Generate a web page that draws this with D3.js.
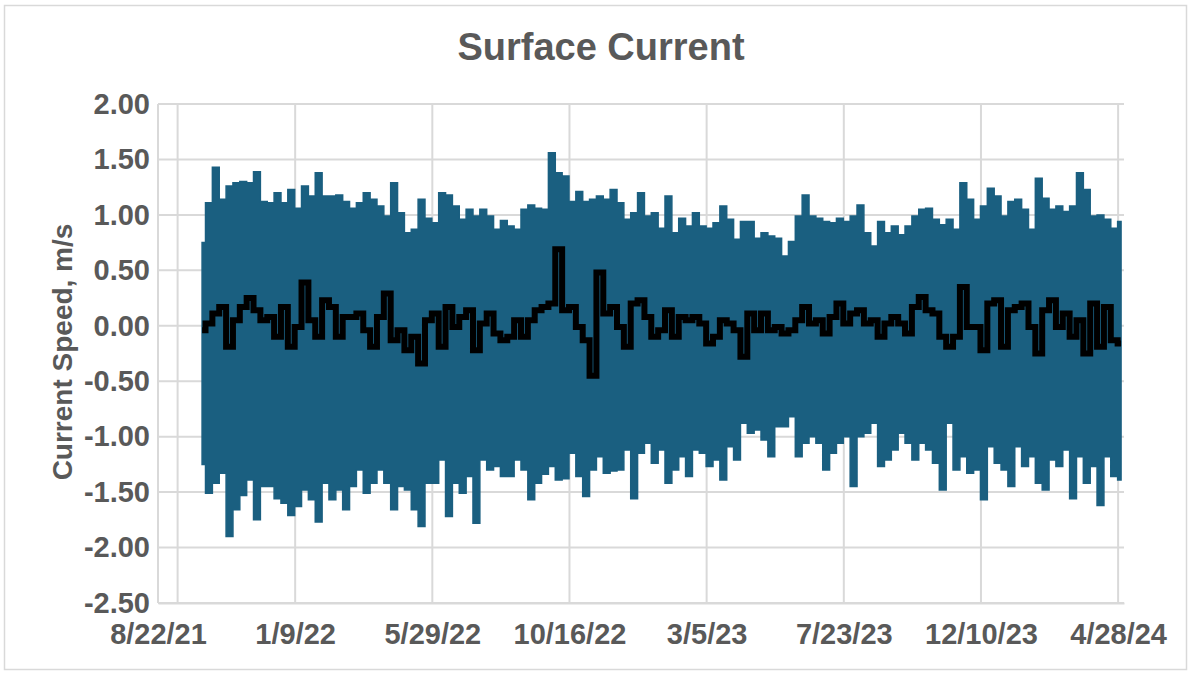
<!DOCTYPE html>
<html>
  <head>
    <meta charset="utf-8">
    <script src="https://d3js.org/d3.v7.min.js"></script>
    <style>
      body { margin: 0; background: #fff; }
      text { font-family: "Liberation Sans", Arial, sans-serif; font-weight: bold; fill: #595959; }
    </style>
  </head>
<body>
  <script type="text/javascript">
    "use strict";

    // first sample and spacing (days) of the read-off series
    var startDate = "10/6/21";
    var stepDays = 7;

    // raw current: upper and lower edges of the tidal band
    var rawHigh = [
      0.75,1.11,1.43,1.14,1.26,1.29,1.30,1.29,1.39,1.12,1.11,1.20,1.11,1.23,1.06,1.26,1.17,1.38,1.17,1.17,1.18,1.12,1.06,
      1.11,1.20,1.14,1.08,0.99,1.29,1.02,0.84,0.87,1.14,0.97,0.93,1.20,1.18,1.08,0.96,1.05,0.99,1.05,0.99,0.87,0.95,
      0.90,0.87,1.05,1.09,1.06,1.05,1.56,1.38,1.35,1.12,1.21,1.12,1.14,1.17,1.14,1.23,1.11,0.96,1.02,1.20,0.99,1.02,0.88,
      1.17,0.84,0.97,0.90,1.02,0.90,0.88,0.93,1.08,0.96,0.78,0.94,0.94,0.79,0.84,0.81,0.79,0.63,0.76,0.99,1.18,0.99,
      0.97,0.94,0.93,0.97,0.94,0.99,1.09,0.84,0.72,0.94,0.84,0.90,0.82,0.90,0.99,1.05,1.06,0.96,0.91,0.96,0.87,1.29,1.14,
      0.96,1.08,1.24,1.17,0.99,1.12,1.14,1.05,0.87,1.33,1.15,1.05,1.08,1.03,1.08,1.38,1.23,0.99,1.00,0.96,0.88,0.94
    ];
    var rawLow = [
      -1.25,-1.51,-1.42,-1.33,-1.90,-1.66,-1.53,-1.39,-1.75,-1.45,-1.45,-1.56,-1.60,-1.71,-1.63,-1.48,-1.57,-1.77,-1.42,-1.57,-1.48,-1.66,-1.45,
      -1.30,-1.51,-1.42,-1.30,-1.42,-1.66,-1.45,-1.48,-1.66,-1.81,-1.42,-1.42,-1.21,-1.72,-1.42,-1.51,-1.36,-1.78,-1.21,-1.30,-1.27,-1.36,
      -1.36,-1.21,-1.30,-1.57,-1.42,-1.34,-1.27,-1.39,-1.38,-1.15,-1.36,-1.54,-1.30,-1.18,-1.33,-1.31,-1.30,-1.12,-1.56,-1.15,-1.06,-1.24,-1.12,
      -1.42,-1.30,-1.18,-1.36,-1.12,-1.15,-1.27,-1.21,-1.39,-1.09,-1.21,-0.88,-0.97,-0.94,-1.03,-1.18,-0.91,-0.91,-0.82,-1.18,-1.06,-1.00,
      -1.06,-1.30,-1.15,-1.06,-1.00,-1.45,-1.00,-0.97,-0.88,-1.27,-1.21,-1.12,-0.97,-1.06,-1.21,-1.06,-1.12,-1.24,-1.48,-0.88,-1.30,-1.18,-1.33,
      -1.30,-1.57,-1.09,-1.24,-1.30,-1.45,-1.09,-1.27,-1.18,-1.42,-1.48,-1.21,-1.27,-1.12,-1.56,-1.18,-1.42,-1.27,-1.62,-1.18,-1.36,-1.39
    ];
    // low-pass (subtidal) current
    var filtered = [
      -0.04,0.02,0.11,0.17,-0.19,0.05,0.17,0.25,0.14,0.05,0.08,-0.10,0.17,-0.19,-0.01,0.39,0.05,-0.10,0.23,0.17,-0.10,0.08,0.08,
      0.11,-0.04,-0.19,0.08,0.29,-0.13,-0.04,-0.22,-0.10,-0.34,0.05,0.11,-0.19,0.17,-0.01,0.08,0.14,-0.22,0.02,0.11,-0.07,-0.13,
      -0.10,0.05,-0.10,0.05,0.14,0.17,0.20,0.69,0.14,0.17,-0.01,-0.13,-0.45,0.48,0.11,0.17,-0.01,-0.19,0.20,0.23,0.08,-0.10,-0.04,
      0.14,-0.10,0.08,0.05,0.08,0.02,-0.16,-0.10,0.05,0.02,-0.04,-0.28,0.11,-0.04,0.11,-0.04,-0.01,-0.07,-0.04,0.05,0.17,0.02,
      0.05,-0.07,0.08,0.20,0.02,0.11,0.14,0.02,0.05,-0.10,0.02,0.08,0.02,-0.07,0.17,0.26,0.14,0.11,-0.10,-0.19,-0.10,0.35,-0.01,
      -0.01,-0.22,0.20,0.23,-0.19,0.14,0.17,0.20,-0.01,-0.25,0.14,0.23,-0.01,0.11,-0.10,0.05,-0.25,0.20,-0.19,0.17,-0.13,-0.16
    ];

    var xTickLabels = ["8/22/21","1/9/22","5/29/22","10/16/22","3/5/23","7/23/23","12/10/23","4/28/24"];
    var yTicks = [2, 1.5, 1, 0.5, 0, -0.5, -1, -1.5, -2, -2.5];
    var xEnd = "5/4/24";

    function draw() {
      var parse = d3.timeParse("%m/%d/%y");
      var t0 = parse(startDate);
      var rows = rawHigh.map(function (h, i) {
        return { date: d3.timeDay.offset(t0, i * stepDays), hi: h, lo: rawLow[i], f: filtered[i] };
      });

      var W = 1191, H = 674;
      var pLeft = 158, pRight = 1124, pTop = 104, pBottom = 603;

      var svg = d3.select("body").append("svg")
        .attr("width", W).attr("height", H);

      // outer chart border
      svg.append("rect")
        .attr("x", 4.5).attr("y", 5.5).attr("width", 1182).attr("height", 664)
        .attr("fill", "#fff").attr("stroke", "#d9d9d9").attr("stroke-width", 1.5);

      var x = d3.scaleTime()
        .domain([parse(xTickLabels[0]), parse(xEnd)])
        .range([pLeft, pRight]);
      var y = d3.scaleLinear().domain([-2.5, 2]).range([pBottom, pTop]);

      var tickDates = xTickLabels.map(parse);

      // gridlines
      var grid = svg.append("g").attr("stroke", "#d9d9d9").attr("stroke-width", 2);
      grid.selectAll(".h").data(yTicks).enter().append("line")
        .attr("x1", pLeft).attr("x2", pRight)
        .attr("y1", function (d) { return y(d); }).attr("y2", function (d) { return y(d); });
      grid.selectAll(".v").data(tickDates).enter().append("line")
        .attr("x1", function (d) { return x(d); }).attr("x2", function (d) { return x(d); })
        .attr("y1", pTop).attr("y2", pBottom);
      // vertical axis line (crosses a little after the first tick)
      var cross = x(parse("9/11/21"));
      grid.append("line")
        .attr("x1", cross).attr("x2", cross)
        .attr("y1", pTop).attr("y2", pBottom);

      // raw series band
      var band = d3.area()
        .curve(d3.curveStep)
        .x(function (d) { return x(d.date); })
        .y0(function (d) { return y(d.lo); })
        .y1(function (d) { return y(d.hi); });
      svg.append("path").datum(rows)
        .attr("d", band)
        .attr("fill", "#1a5f80")
        .attr("stroke", "#1a5f80").attr("stroke-width", 1.5);

      // filtered series
      var line = d3.line()
        .curve(d3.curveStep)
        .x(function (d) { return x(d.date); })
        .y(function (d) { return y(d.f); });
      svg.append("path").datum(rows)
        .attr("d", line)
        .attr("fill", "none")
        .attr("stroke", "#000").attr("stroke-width", 6);

      // x axis
      var xAxis = d3.axisBottom(x)
        .tickValues(tickDates)
        .tickSize(0)
        .tickPadding(20)
        .tickFormat(function (d, i) { return xTickLabels[i]; });
      var gx = svg.append("g")
        .attr("transform", "translate(0," + pBottom + ")")
        .call(xAxis);
      gx.select(".domain").attr("stroke", "#d9d9d9").attr("stroke-width", 2);
      gx.selectAll("text").attr("font-size", 29).attr("fill", "#595959")
        .style("font-family", "'Liberation Sans', Arial, sans-serif").style("font-weight", "bold");

      // y axis, plain hyphen for negatives
      var fmt = d3.format(".2f");
      var yAxis = d3.axisLeft(y)
        .tickValues(yTicks)
        .tickSize(0)
        .tickPadding(8)
        .tickFormat(function (d) { return fmt(d).replace("\u2212", "-"); });
      var gy = svg.append("g")
        .attr("transform", "translate(" + pLeft + ",0)")
        .call(yAxis);
      gy.select(".domain").remove();
      gy.selectAll("text").attr("font-size", 29).attr("fill", "#595959")
        .style("font-family", "'Liberation Sans', Arial, sans-serif").style("font-weight", "bold");

      // titles
      svg.append("text")
        .attr("x", 601).attr("y", 60)
        .attr("text-anchor", "middle")
        .attr("font-size", 38)
        .text("Surface Current");

      svg.append("text")
        .attr("transform", "translate(72,352) rotate(-90)")
        .attr("text-anchor", "middle")
        .attr("font-size", 28)
        .text("Current Speed, m/s");
    }

    draw();
  </script>
</body>
</html>
